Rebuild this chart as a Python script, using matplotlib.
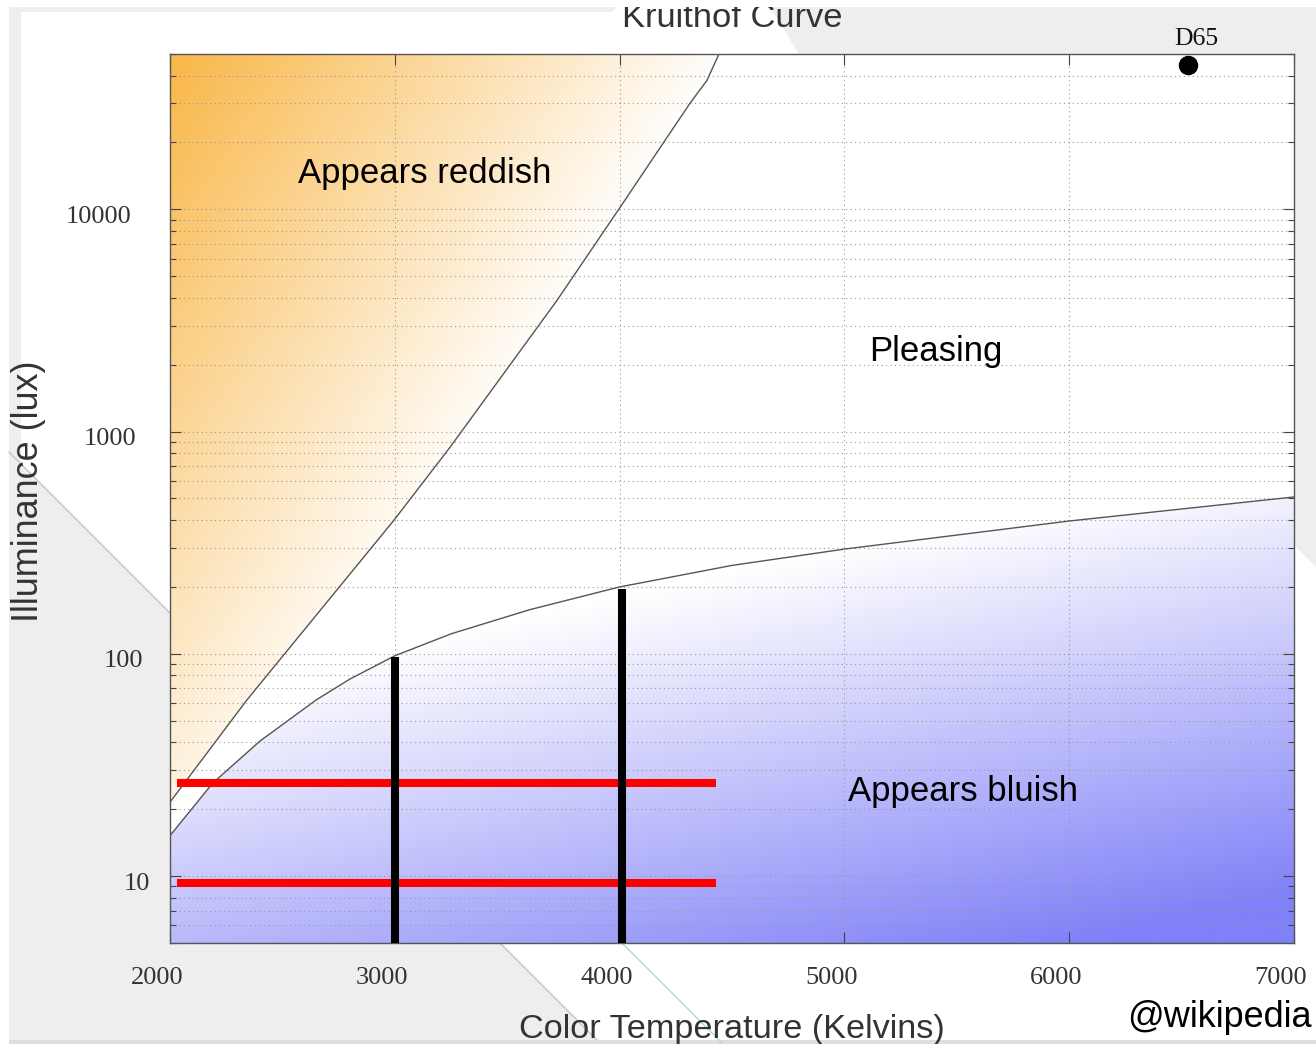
import numpy as np
import matplotlib
matplotlib.use('Agg')
import matplotlib.pyplot as plt
from matplotlib.patches import Polygon, Rectangle
from matplotlib.lines import Line2D
import matplotlib.transforms as mtransforms
from matplotlib.ticker import NullFormatter, NullLocator

# ---------------- data ----------------
reddish_T = [2000, 2342, 2996, 3246, 3722, 4002, 4193, 4313, 4389, 4442]
reddish_lux = [21.5, 62, 399, 851, 3900, 10200, 19800, 30000, 38100, 50000]
bluish_T = [2000, 2190, 2400, 2650, 2800, 3000, 3250, 3600, 4000, 4500, 5000, 6000, 7000]
bluish_lux = [15.2, 26.2, 40.5, 62, 77, 98, 123, 158, 200, 250, 296, 396, 508]
red_lux = [26.1, 9.35]
red_T_range = [2030, 4430]
black_T = [3000, 4010]
black_top_lux = [97, 196]
d65_T, d65_lux = 6530, 44500
x_ticks = [2000, 3000, 4000, 5000, 6000, 7000]
x_tick_labels = ['2000', '3000', '4000', '5000', '6000', '7000']
y_ticks = [10, 100, 1000, 10000]
y_tick_labels = ['10', '100', '1000', '10000']
x_lim = (2000, 7000)
y_lim = (5, 50000)
region_labels = ['Appears reddish', 'Pleasing', 'Appears bluish']
region_T = [3132, 5408, 5528]
region_lux = [13100, 2085, 21.7]

SANS = 'Liberation Sans'
SERIF = 'Liberation Serif'

W, H = 1316, 1044
fig = plt.figure(figsize=(W / 100, H / 100), dpi=100, facecolor='white')


def P(x, y):
    return (x / W, 1 - y / H)


gray = '#eeeeee'
# slide background shapes
fig.add_artist(Polygon([P(9, 7), P(617, 7), P(612, 12), P(21, 12), P(21, 464),
                        P(597, 1040), P(9, 1040)], closed=True,
                       transform=fig.transFigure, fc=gray, ec='none', zorder=-5))
fig.add_artist(Polygon([P(770, 7), P(1316, 7), P(1316, 567), P(1294, 545), P(805, 64)],
                       closed=True, transform=fig.transFigure, fc=gray, ec='none', zorder=-5))
fig.add_artist(Line2D([9 / W, 597 / W], [1 - 452 / H, 1 - 1040 / H], transform=fig.transFigure,
                      color='#c4c4c4', lw=1, zorder=-4))
fig.add_artist(Rectangle(P(9, 1044), (1316 - 9) / W, 4 / H, transform=fig.transFigure,
                         fc='#dedede', ec='none', zorder=-4))
fig.add_artist(Line2D([622 / W, 723 / W], [1 - 943 / H, 1 - 1044 / H], transform=fig.transFigure,
                      color='#a8dcdc', lw=1, zorder=-3))

ax = fig.add_axes([170 / W, 1 - 943 / H, (1294 - 170) / W, (943 - 54) / H])
ax.set_facecolor('white')
ax.set_yscale('log')

# gradients
ny, nx = 400, 500
u = np.linspace(0, 1, nx)[None, :]
v = np.linspace(0, 1, ny)[:, None]
f_or = np.clip(1 - u / 0.5 - v / 1.0, 0, 1)
orange = np.array([249, 183, 72]) / 255
img_or = 1 - f_or[..., None] * (1 - orange)
im1 = ax.imshow(img_or, extent=[0, 1, 0, 1], transform=ax.transAxes, origin='upper',
                aspect='auto', zorder=0, interpolation='bilinear')
poly_or = Polygon(list(zip(reddish_T, reddish_lux)) + [(x_lim[0], y_lim[1])], closed=True,
                  transform=ax.transData, fc='none', ec='none')
im1.set_clip_path(poly_or)

w = (889 * v - 442) / 447
f_bl = np.clip(0.55 * u + w - 0.45, 0, 1)
blue = np.array([128, 128, 248]) / 255
img_bl = 1 - f_bl[..., None] * (1 - blue)
im2 = ax.imshow(img_bl, extent=[0, 1, 0, 1], transform=ax.transAxes, origin='upper',
                aspect='auto', zorder=0, interpolation='bilinear')
poly_bl = Polygon(list(zip(bluish_T, bluish_lux)) + [(x_lim[1], y_lim[0]), (x_lim[0], y_lim[0])],
                  closed=True, transform=ax.transData, fc='none', ec='none')
im2.set_clip_path(poly_bl)

# curves
ax.plot(reddish_T, reddish_lux, color='#555555', lw=1.0, zorder=2)
ax.plot(bluish_T, bluish_lux, color='#555555', lw=1.0, zorder=2)

for yv in red_lux:
    ax.plot(red_T_range, [yv, yv], color='#ff0000', lw=5.8, solid_capstyle='butt', zorder=3)
ax.vlines(black_T, y_lim[0], black_top_lux, colors='black', lw=5.8, zorder=4)

for s, t, l in zip(region_labels, region_T, region_lux):
    ax.text(t, l, s, ha='center', va='baseline', fontsize=25, family=SANS, color='black', zorder=5)

ax.plot([d65_T], [d65_lux], 'o', ms=13, color='black', clip_on=False, zorder=6)
ax.annotate('D65', xy=(d65_T, d65_lux), xytext=(6.0, 14.4), textcoords='offset points',
            ha='center', va='baseline', fontsize=18.5, family=SERIF, color='#111111',
            annotation_clip=False)

ax.set_xlim(*x_lim)
ax.set_ylim(*y_lim)
ax.set_xticks(x_ticks, x_tick_labels)
ax.set_yticks(y_ticks, y_tick_labels)
minor = [m * 10 ** e for e in range(0, 5) for m in range(2, 10)]
minor = [t for t in minor if y_lim[0] <= t <= y_lim[1]]
ax.set_yticks(minor, minor=True)
ax.yaxis.set_minor_formatter(NullFormatter())
ax.xaxis.set_minor_locator(NullLocator())
ax.tick_params(which='both', direction='in', top=True, right=True, color='#444444',
               labelcolor='#333333', width=0.8)
ax.tick_params(which='major', length=7.9)
ax.tick_params(which='minor', length=4.3)
ax.tick_params(axis='x', pad=17, labelsize=19)
ax.tick_params(axis='y', pad=14.4, labelsize=19)
for lab in ax.get_xticklabels() + ax.get_yticklabels():
    lab.set_fontfamily(SERIF)

for lab in ax.xaxis.get_majorticklabels():
    lab.set_transform(lab.get_transform() +
                      mtransforms.ScaledTranslation(-13 / 100, 0, fig.dpi_scale_trans))
y_dx = [0, -7, -14, -19]
for lab, dx in zip(ax.yaxis.get_majorticklabels(), y_dx):
    lab.set_transform(lab.get_transform() +
                      mtransforms.ScaledTranslation(dx / 100, -5 / 100, fig.dpi_scale_trans))

gkw = dict(color='#999999', lw=0.8, ls=(0, (1, 3)))
ax.grid(True, which='major', axis='x', **gkw)
ax.grid(True, which='both', axis='y', **gkw)
for sp in ax.spines.values():
    sp.set_color('#555555')
    sp.set_linewidth(1.0)

fig.text(732 / W, 1 - 27 / H, 'Kruithof Curve', ha='center', va='baseline', fontsize=24.8,
         color='#333333', family=SANS, zorder=5)
fig.text(732 / W, 1 - 1038 / H, 'Color Temperature (Kelvins)', ha='center', va='baseline',
         fontsize=24.7, color='#333333', family=SANS)
fig.text(29 / W, 1 - 491 / H, 'Illuminance (lux)', rotation=90, ha='center', va='center',
         fontsize=25.9, color='#333333', family=SANS)
fig.text(1312 / W, 1 - 1027 / H, '@wikipedia', ha='right', va='baseline', fontsize=26,
         color='black', family=SANS)

# white strip along the top edge
fig.add_artist(Rectangle(P(0, 7), 1, 7 / H, transform=fig.transFigure, fc='white', ec='none',
                         zorder=10))

fig.savefig('out.png', dpi=100, facecolor='white')
